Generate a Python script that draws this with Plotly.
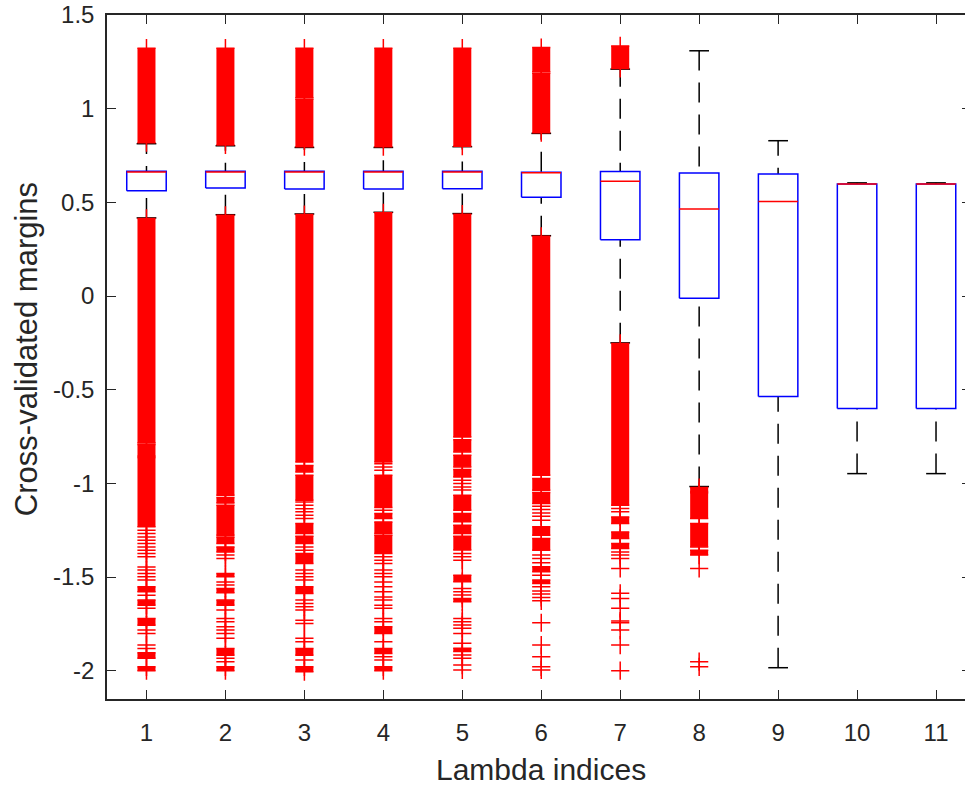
import plotly.graph_objects as go

# ---------------- data ----------------
positions = [1, 2, 3, 4, 5, 6, 7, 8, 9, 10, 11]
tick_labels = ["1", "2", "3", "4", "5", "6", "7", "8", "9", "10", "11"]

q1 = [0.562, 0.577, 0.571, 0.571, 0.573, 0.527, 0.300, -0.012, -0.536, -0.601, -0.601]
median = [0.662, 0.662, 0.662, 0.662, 0.662, 0.658, 0.612, 0.465, 0.505, 0.598, 0.598]
q3 = [0.666, 0.666, 0.666, 0.666, 0.666, 0.661, 0.665, 0.657, 0.651, 0.598, 0.598]
lower_whisker = [0.417, 0.434, 0.438, 0.447, 0.440, 0.322, -0.250, -1.017, -1.984, -0.948, -0.948]
upper_whisker = [0.813, 0.802, 0.793, 0.793, 0.797, 0.868, 1.211, 1.309, 0.829, 0.604, 0.604]

# runs of outliers so dense that their markers merge into solid bands: (low, high)
outlier_bands = [
    [(0.818, 1.323), (-0.785, 0.414), (-0.855, -0.792), (-1.232, -0.862), (-1.579, -1.552),
     (-1.650, -1.623), (-1.757, -1.721), (-1.934, -1.904), (-2.000, -1.979)],
    [(0.806, 1.323), (-1.063, 0.431), (-1.105, -1.076), (-1.277, -1.117), (-1.321, -1.286),
     (-1.366, -1.339), (-1.499, -1.481), (-1.584, -1.561), (-1.650, -1.623), (-1.917, -1.881),
     (-2.000, -1.979)],
    [(0.797, 1.050), (1.058, 1.323), (-0.886, 0.435), (-0.939, -0.904), (-1.090, -0.957),
     (-1.268, -1.214), (-1.321, -1.282), (-1.428, -1.374), (-1.588, -1.552), (-1.917, -1.881),
     (-2.005, -1.979)],
    [(0.797, 1.323), (-0.886, 0.444), (-1.129, -0.957), (-1.188, -1.161), (-1.268, -1.206),
     (-1.374, -1.277), (-1.801, -1.765), (-1.908, -1.881), (-2.000, -1.979)],
    [(0.800, 1.323), (-0.752, 0.437), (-0.832, -0.767), (-0.912, -0.850), (-0.966, -0.926),
     (-1.143, -1.063), (-1.205, -1.161), (-1.268, -1.223), (-1.356, -1.282), (-1.525, -1.490),
     (-1.632, -1.614), (-1.898, -1.880)],
    [(0.872, 1.189), (1.197, 1.326), (-0.957, 0.319), (-1.037, -0.974), (-1.108, -1.049),
     (-1.277, -1.232), (-1.357, -1.294), (-1.472, -1.445), (-1.534, -1.516)],
    [(1.215, 1.335), (-1.117, -0.253), (-1.214, -1.179), (-1.294, -1.259), (-1.348, -1.321)],
    [(-1.043, -1.022), (-1.188, -1.050), (-1.339, -1.214), (-1.383, -1.357)],
    [],
    [],
    [],
]

# isolated outliers
outlier_points = [
    [-1.250, -1.268, -1.286, -1.303, -1.321, -1.339, -1.357, -1.374, -1.392, -1.446, -1.463,
     -1.481, -1.499, -1.516, -1.597, -1.667, -1.783, -1.801, -1.863, -1.881],
    [-1.383, -1.401, -1.526, -1.543, -1.676, -1.721, -1.739, -1.765, -1.783, -1.801, -1.827,
     -1.934, -1.952],
    [-1.099, -1.117, -1.135, -1.152, -1.170, -1.188, -1.339, -1.357, -1.463, -1.481, -1.499,
     -1.516, -1.623, -1.641, -1.659, -1.676, -1.730, -1.748, -1.827, -1.845, -1.943],
    [-0.895, -0.913, -0.930, -1.143, -1.392, -1.410, -1.428, -1.463, -1.481, -1.499, -1.526,
     -1.552, -1.579, -1.606, -1.623, -1.650, -1.667, -1.721, -1.739, -1.845, -1.925, -1.943],
    [-0.983, -1.001, -1.019, -1.036, -1.374, -1.392, -1.410, -1.561, -1.578, -1.596, -1.721,
     -1.738, -1.756, -1.774, -1.801, -1.854, -1.916, -1.934, -1.970, -1.996],
    [-1.122, -1.140, -1.158, -1.175, -1.197, -1.383, -1.401, -1.424, -1.490, -1.552, -1.574,
     -1.591, -1.609, -1.627, -1.744, -1.863, -1.925, -1.979, -1.996],
    [-1.134, -1.152, -1.366, -1.383, -1.401, -1.454, -1.587, -1.614, -1.667, -1.735, -1.744,
     -1.783, -1.863, -2.000],
    [-1.454, -1.952, -1.979],
    [],
    [],
    [],
]

y_tick_vals = [-2, -1.5, -1, -0.5, 0, 0.5, 1, 1.5]
y_tick_text = ["-2", "-1.5", "-1", "-0.5", "0", "0.5", "1", "1.5"]
y_range = [-2.151, 1.5]

x_title = "Lambda indices"
y_title = "Cross-validated margins"

# ---------------- style ----------------
BOX_HALF = 0.25
CAP_HALF = 0.125
MARK_W = 0.228
AX = "#262626"
FONT = "Liberation Sans, Arial, Helvetica, sans-serif"

fig = go.Figure()

# dense outlier bands
bx, bbase, bh = [], [], []
for p, bands in zip(positions, outlier_bands):
    for lo, hi in bands:
        bx.append(p)
        bbase.append(lo)
        bh.append(hi - lo)
fig.add_trace(go.Bar(x=bx, y=bh, base=bbase, width=MARK_W,
                     marker=dict(color="#ff0000", line=dict(width=0)),
                     hoverinfo="skip", showlegend=False))

# whiskers (single dashed line lw -> uw, box drawn over it)
for p, lw, uw in zip(positions, lower_whisker, upper_whisker):
    fig.add_trace(go.Scatter(x=[p, p], y=[lw, uw], mode="lines",
                             line=dict(color="black", width=1.5, dash="20px,12px"),
                             hoverinfo="skip", showlegend=False))

# boxes
for p, a, b in zip(positions, q1, q3):
    fig.add_trace(go.Scatter(
        x=[p - BOX_HALF, p + BOX_HALF, p + BOX_HALF, p - BOX_HALF, p - BOX_HALF],
        y=[a, a, b, b, a], mode="lines", fill="toself", fillcolor="white",
        line=dict(color="#0000ff", width=1.5), hoverinfo="skip", showlegend=False))

# caps
cx, cy = [], []
for p, lw, uw in zip(positions, lower_whisker, upper_whisker):
    cx += [p - CAP_HALF, p + CAP_HALF, None, p - CAP_HALF, p + CAP_HALF, None]
    cy += [lw, lw, None, uw, uw, None]
fig.add_trace(go.Scatter(x=cx, y=cy, mode="lines", line=dict(color="black", width=1.5),
                         hoverinfo="skip", showlegend=False))

# medians
mx, my = [], []
for p, m in zip(positions, median):
    mx += [p - BOX_HALF, p + BOX_HALF, None]
    my += [m, m, None]
fig.add_trace(go.Scatter(x=mx, y=my, mode="lines", line=dict(color="#ff0000", width=1.5),
                         hoverinfo="skip", showlegend=False))

# outlier markers (isolated ones plus the ends of each dense band)
ox, oy = [], []
for p, pts, bands in zip(positions, outlier_points, outlier_bands):
    for v in pts:
        ox.append(p)
        oy.append(v)
    for lo, hi in bands:
        ox += [p, p]
        oy += [lo, hi]
fig.add_trace(go.Scatter(x=ox, y=oy, mode="markers",
                         marker=dict(symbol="cross-thin", size=13, color="#ff0000",
                                     line=dict(color="#ff0000", width=1.5)),
                         hoverinfo="skip", showlegend=False))

# empty trace so the right-hand (mirrored) y ticks are drawn at the window edge
fig.add_trace(go.Scatter(x=[], y=[], yaxis="y2", hoverinfo="skip", showlegend=False))

fig.update_layout(
    width=965, height=785,
    margin=dict(l=107, r=0, t=15, b=86, autoexpand=False),
    paper_bgcolor="white", plot_bgcolor="white",
    barmode="overlay",
    font=dict(family=FONT, color=AX),
    xaxis=dict(range=[0.5, 11.367], tickvals=positions, ticktext=tick_labels,
               ticks="inside", ticklen=9, tickwidth=1, tickcolor=AX,
               showline=True, linecolor=AX, linewidth=1.5, mirror="ticks",
               showgrid=False, zeroline=False, tickfont=dict(size=24, color=AX),
               ticklabelstandoff=11, automargin=False),
    yaxis=dict(range=y_range, tickvals=y_tick_vals, ticktext=y_tick_text,
               ticks="inside", ticklen=9, tickwidth=1, tickcolor=AX,
               showline=True, linecolor=AX, linewidth=1.5, mirror=False,
               showgrid=False, zeroline=False, tickfont=dict(size=24, color=AX),
               ticklabelstandoff=6, ticklabeloverflow="allow", automargin=False),
    yaxis2=dict(range=y_range, tickvals=y_tick_vals, overlaying="y", side="right",
                ticks="inside", ticklen=3, tickwidth=1, tickcolor=AX,
                showline=False, showticklabels=False, showgrid=False, zeroline=False,
                automargin=False),
    annotations=[
        dict(text=x_title, x=6, xref="x", y=-0.103, yref="paper", showarrow=False,
             xanchor="center", yanchor="middle", font=dict(size=30, color=AX)),
        dict(text=y_title, x=-0.094, xref="paper", y=0.512, yref="paper", showarrow=False,
             textangle=-90, xanchor="center", yanchor="middle", font=dict(size=31, color=AX)),
    ],
)

# remove the page's default 8px body margin so the figure fills the window exactly
fig.write_html("out.html", config={"displayModeBar": False},
               post_script="document.body.style.margin='0';")
